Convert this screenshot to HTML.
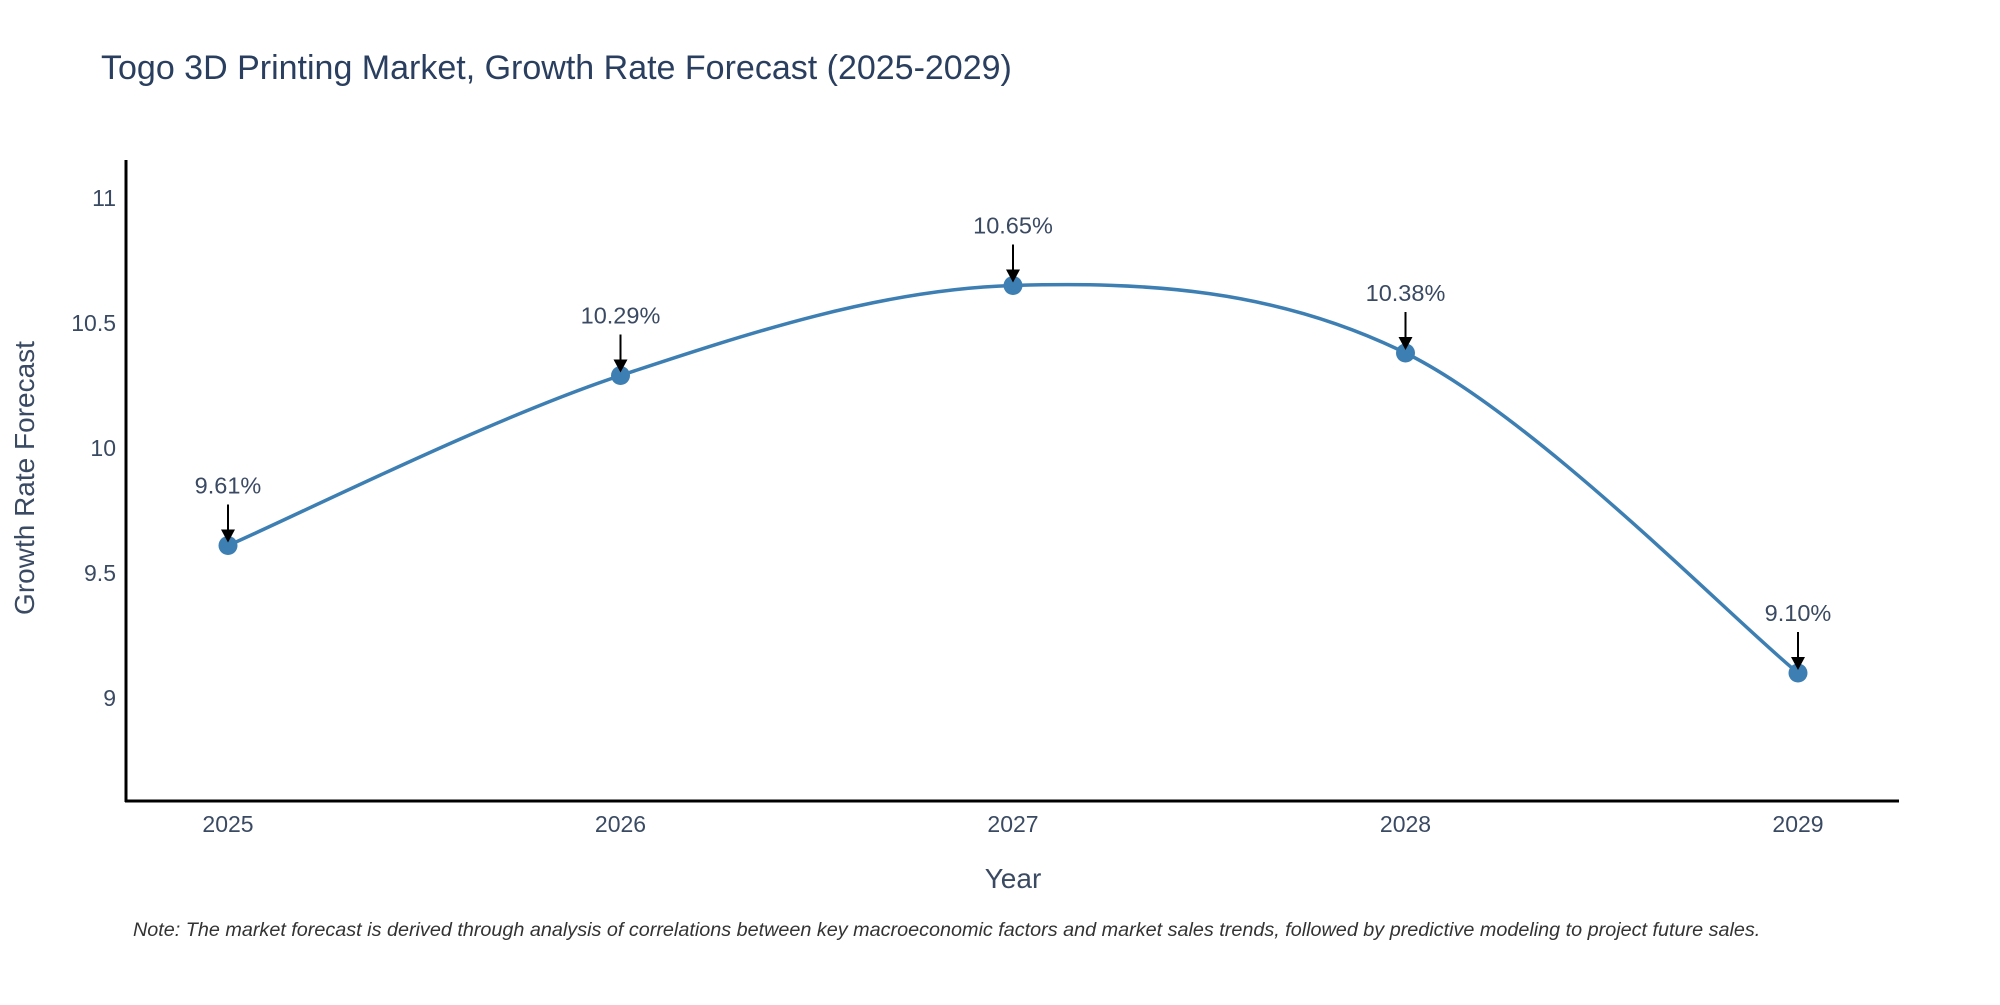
<!DOCTYPE html>
<html><head><meta charset="utf-8"><style>
body{margin:0;background:#fff;width:2000px;height:1000px;overflow:hidden;font-family:"Liberation Sans",sans-serif}
</style></head><body>
<svg id="chart" width="2000" height="1000" xmlns="http://www.w3.org/2000/svg">
<text x="101" y="79" font-size="34" fill="#2a3f5f">Togo 3D Printing Market, Growth Rate Forecast (2025-2029)</text>
<g id="yticks"></g><g id="xticks"></g>
<line x1="126" y1="160" x2="126" y2="802" stroke="#000" stroke-width="3"/>
<line x1="125" y1="801" x2="1899" y2="801" stroke="#000" stroke-width="3"/>
<path id="line" fill="none" stroke="#3d7fb3" stroke-width="3.5"/>
<g id="points"></g><g id="annos"></g>
<text x="1013" y="888" font-size="28" fill="#3a4a63" text-anchor="middle">Year</text>
<text transform="translate(34,478) rotate(-90)" font-size="28" fill="#3a4a63" text-anchor="middle">Growth Rate Forecast</text>
<text x="133" y="936" font-size="19.8" font-style="italic" fill="#333">Note: The market forecast is derived through analysis of correlations between key macroeconomic factors and market sales trends, followed by predictive modeling to project future sales.</text>
</svg>
<script>
const years=[2025,2026,2027,2028,2029];
const values=[9.61,10.29,10.65,10.38,9.10];
const labels=["9.61%","10.29%","10.65%","10.38%","9.10%"];
const yTicks=[9,9.5,10,10.5,11];
const yTickLabels=["9","9.5","10","10.5","11"];
const ns="http://www.w3.org/2000/svg";
const xs=v=>228+(v-2025)*392.5;
const ys=v=>698-(v-9)*250;
function mk(t,a,p){const e=document.createElementNS(ns,t);for(const k in a)e.setAttribute(k,a[k]);p.appendChild(e);return e;}
const yt=document.getElementById('yticks');
yTicks.forEach((t,i)=>{const e=mk('text',{x:116,y:ys(t)+8,'font-size':23,fill:'#3a4a63','text-anchor':'end'},yt);


e.textContent=yTickLabels[i];});
const xt=document.getElementById('xticks');
years.forEach(y=>{const e=mk('text',{x:xs(y),y:832,'font-size':23,fill:'#3a4a63','text-anchor':'middle'},xt);


e.textContent=y;});
const P=years.map((y,i)=>[xs(y),ys(values[i])]);
let d=`M${P[0][0]},${P[0][1]}`;
for(let i=0;i<P.length-1;i++){const p0=P[Math.max(0,i-1)],p1=P[i],p2=P[i+1],p3=P[Math.min(P.length-1,i+2)];
const c1=[p1[0]+(p2[0]-p0[0])/6,p1[1]+(p2[1]-p0[1])/6],c2=[p2[0]-(p3[0]-p1[0])/6,p2[1]-(p3[1]-p1[1])/6];
d+=`C${c1[0]},${c1[1]} ${c2[0]},${c2[1]} ${p2[0]},${p2[1]}`;}
document.getElementById('line').setAttribute('d',d);
const pg=document.getElementById('points'),ag=document.getElementById('annos');
P.forEach((p,i)=>{const c=mk('circle',{cx:p[0],cy:p[1],r:9.5,fill:'#3d7fb3'},pg);


const l=mk('line',{x1:p[0],y1:p[1]-41,x2:p[0],y2:p[1]-14,stroke:'#000','stroke-width':2},ag);


const h=mk('polygon',{points:`${p[0]-7},${p[1]-16} ${p[0]+7},${p[1]-16} ${p[0]},${p[1]-3}`,fill:'#000'},ag);


const t=mk('text',{x:p[0],y:p[1]-52,'font-size':23.5,fill:'#3a4a63','text-anchor':'middle'},ag);


t.textContent=labels[i];});
</script>
</body></html>
